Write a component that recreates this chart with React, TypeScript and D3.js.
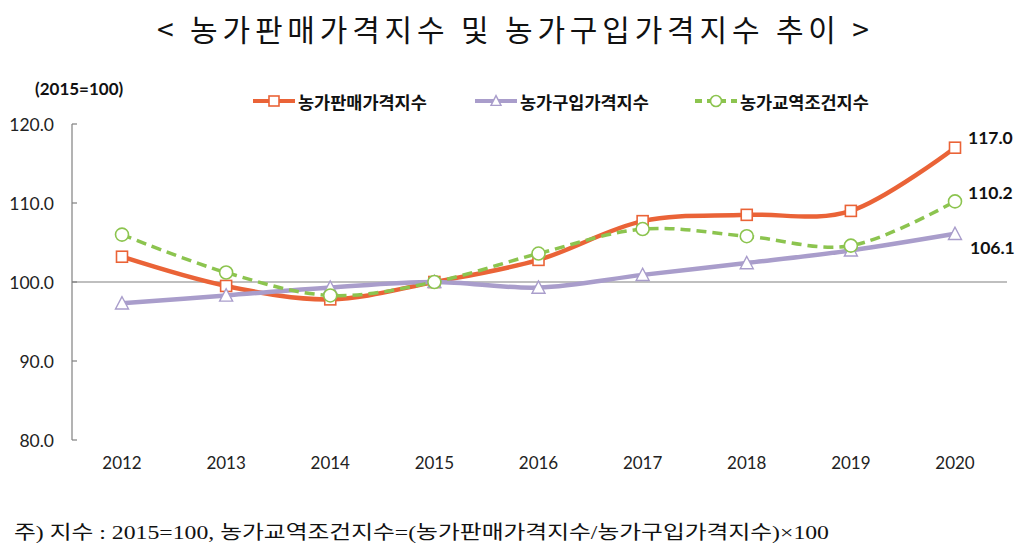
import React from "react";
import * as d3 from "d3";

const years = ["2012", "2013", "2014", "2015", "2016", "2017", "2018", "2019", "2020"];
const salesIndex = [103.2, 99.5, 97.8, 100.0, 102.8, 107.7, 108.5, 109.0, 117.0];
const purchaseIndex = [97.3, 98.3, 99.3, 100.0, 99.3, 100.9, 102.4, 104.0, 106.1];
const tradeIndex = [106.0, 101.2, 98.3, 100.0, 103.6, 106.7, 105.8, 104.6, 110.2];
const yTicks = [80, 90, 100, 110, 120];
const seriesNames = ["농가판매가격지수", "농가구입가격지수", "농가교역조건지수"];
const endLabels = ["117.0", "110.2", "106.1"];

const title = "< 농가판매가격지수 및 농가구입가격지수 추이 >";
const unitLabel = "(2015=100)";
const footnote = "주) 지수 : 2015=100, 농가교역조건지수=(농가판매가격지수/농가구입가격지수)×100";

const ORANGE = "#ea6337";
const PURPLE = "#a99dcb";
const GREEN = "#8cc44f";
const AXIS = "#808080";

const W = 1024;
const H = 557;

export default function App() {
  const x = d3.scalePoint<string>().domain(years).range([122, 955]);
  const y = d3.scaleLinear().domain([80, 120]).range([440, 124]);
  const line = d3
    .line<number>()
    .x((_, i) => x(years[i]) as number)
    .y((d) => y(d))
    .curve(d3.curveCardinal.tension(0));

  const sansKR = "'Noto Sans CJK KR', 'Noto Sans', sans-serif";
  const latin = "Lato, 'Open Sans', sans-serif";

  const square = (cx: number, cy: number, key: string, s = 11) => (
    <rect key={key} x={cx - s / 2} y={cy - s / 2} width={s} height={s} fill="#fff" stroke={ORANGE} strokeWidth={1.6} />
  );
  const tri = (cx: number, cy: number, key: string, s = 13) => {
    const h = s * 0.87;
    const p = `${cx},${cy - h / 2 - 1} ${cx - s / 2},${cy + h / 2} ${cx + s / 2},${cy + h / 2}`;
    return <polygon key={key} points={p} fill="#fff" stroke={PURPLE} strokeWidth={1.4} />;
  };
  const circ = (cx: number, cy: number, key: string, r = 6.5) => (
    <circle key={key} cx={cx} cy={cy} r={r} fill="#fff" stroke={GREEN} strokeWidth={1.6} />
  );

  const legendItems = [
    { x0: 253, name: seriesNames[0], color: ORANGE, dash: undefined, marker: square },
    { x0: 475, name: seriesNames[1], color: PURPLE, dash: undefined, marker: tri },
    { x0: 695, name: seriesNames[2], color: GREEN, dash: "7,5", marker: circ },
  ];
  const legendY = 101;

  return (
    <svg
      width={W}
      height={H}
      viewBox={`0 0 ${W} ${H}`}
      style={{ position: "absolute", left: 0, top: 0, background: "#fff" }}
    >
      <rect x={0} y={0} width={W} height={H} fill="#fff" />
      {/* Title */}
      <text
        x={157}
        y={28}
        dominantBaseline="central"
        fontFamily={sansKR}
        fontSize={30}
        fontWeight={400}
        fill="#111"
        textLength={712}
        lengthAdjust="spacing"
      >
        {title}
      </text>

      {/* Unit label */}
      <text x={35} y={88} dominantBaseline="central" fontFamily={latin} fontWeight={700} fontSize={17} fill="#111">
        {unitLabel}
      </text>

      {/* Legend */}
      {legendItems.map((it, i) => (
        <g key={"lg" + i}>
          <line
            x1={it.x0}
            x2={it.x0 + 42}
            y1={legendY}
            y2={legendY}
            stroke={it.color}
            strokeWidth={4}
            strokeDasharray={it.dash}
          />
          {it.marker(it.x0 + 21, legendY, "lm" + i, i === 2 ? 5.5 : 10)}
          <text
            x={it.x0 + 45}
            y={legendY}
            dominantBaseline="central"
            fontFamily={sansKR}
            fontWeight={700}
            fontSize={17.5}
            fill="#111"
          >
            {it.name}
          </text>
        </g>
      ))}

      {/* Y axis */}
      <line x1={72} x2={72} y1={y(120)} y2={y(80)} stroke={AXIS} strokeWidth={1.2} />
      {yTicks.map((t) => (
        <g key={"yt" + t}>
          <line x1={72} x2={77} y1={y(t)} y2={y(t)} stroke={AXIS} strokeWidth={1.2} />
          <text
            x={54}
            y={y(t)}
            textAnchor="end"
            dominantBaseline="central"
            fontFamily={latin}
            fontSize={17.5}
            fill="#222"
          >
            {t.toFixed(1)}
          </text>
        </g>
      ))}
      {/* Baseline at 100 */}
      <line x1={72} x2={1007} y1={y(100)} y2={y(100)} stroke={AXIS} strokeWidth={1.2} />

      {/* X labels */}
      {years.map((yr) => (
        <text
          key={"xl" + yr}
          x={x(yr)}
          y={462}
          textAnchor="middle"
          dominantBaseline="central"
          fontFamily={latin}
          fontSize={17}
          fill="#222"
        >
          {yr}
        </text>
      ))}

      {/* Series lines */}
      <path d={line(salesIndex) || ""} fill="none" stroke={ORANGE} strokeWidth={4.5} />
      <path d={line(purchaseIndex) || ""} fill="none" stroke={PURPLE} strokeWidth={4.5} />
      <path d={line(tradeIndex) || ""} fill="none" stroke={GREEN} strokeWidth={3.5} strokeDasharray="10,6" />

      {/* Markers */}
      {salesIndex.map((v, i) => square(x(years[i]) as number, y(v), "sq" + i))}
      {purchaseIndex.map((v, i) => tri(x(years[i]) as number, y(v), "tr" + i))}
      {tradeIndex.map((v, i) => circ(x(years[i]) as number, y(v), "ci" + i))}

      {/* End labels */}
      {[salesIndex, tradeIndex, purchaseIndex].map((arr, i) => {
        const cy = [137, 192, 247][i];
        return (
          <text
            key={"el" + i}
            x={i === 2 ? 970 : 968}
            y={cy}
            dominantBaseline="central"
            fontFamily={latin}
            fontWeight={700}
            fontSize={17.5}
            fill="#111"
          >
            {endLabels[i]}
          </text>
        );
      })}

      {/* Footnote */}
      <text
        x={14}
        y={532}
        dominantBaseline="central"
        fontFamily="'Liberation Serif', 'Noto Sans CJK KR', serif"
        fontSize={19}
        fill="#111"
        textLength={815}
        lengthAdjust="spacingAndGlyphs"
      >
        {footnote}
      </text>
    </svg>
  );
}
